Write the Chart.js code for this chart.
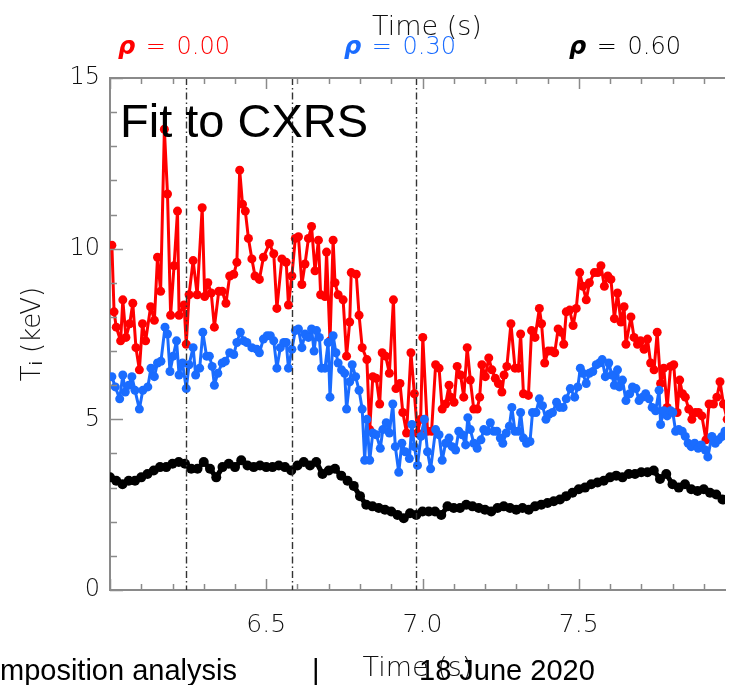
<!DOCTYPE html>
<html>
<head>
<meta charset="utf-8">
<script src="https://cdn.jsdelivr.net/npm/chart.js@4.4.0/dist/chart.umd.min.js"></script>
<style>
  body { margin: 0; background: #fff; }
  #wrap { position: relative; width: 730px; height: 685px; overflow: hidden; }
  #tiChart { position: absolute; left: 0; top: 0; }
  .lbl { position: absolute; white-space: nowrap; font-family: 'DejaVu Sans', sans-serif; font-weight: 200; line-height: 1; }
  .key { font-size: 24px; word-spacing: 3px; }
  .rho { font-weight: bold; font-style: italic; }
  .arial { font-family: 'Liberation Sans', Arial, sans-serif; font-weight: normal; }
</style>
</head>
<body>
<div id="wrap">
  <canvas id="tiChart" width="730" height="685"></canvas>
  <div class="lbl" style="left:372px; top:12px; font-size:27px; color:#111;">Time (s)</div>
  <div class="lbl key" style="left:118px; top:34px; color:#ff0000;"><span class="rho">ρ</span> = 0.00</div>
  <div class="lbl key" style="left:344px; top:34px; color:#1a6cff;"><span class="rho">ρ</span> = 0.30</div>
  <div class="lbl key" style="left:569px; top:34px; color:#000;"><span class="rho">ρ</span> = 0.60</div>
  <div class="lbl arial" style="left:120px; top:97px; font-size:47px; color:#000;">Fit to CXRS</div>
  <div class="lbl arial" style="left:0px; top:656px; font-size:29px; color:#000;">mposition analysis</div>
  <div class="lbl arial" style="left:312px; top:656px; font-size:29px; color:#000;">|</div>
  <div class="lbl arial" style="left:419px; top:656px; font-size:29px; color:#000;">18 June 2020</div>
</div>
<script>
// marker times (dash-dot lines)
const markTimes = [6.243, 6.582, 6.979];

// rho = 0.00
const redTime = [6.006, 6.013, 6.020, 6.034, 6.041, 6.051, 6.063, 6.073, 6.083, 6.094, 6.104, 6.114, 6.130, 6.142, 6.152, 6.162,
  6.174, 6.184, 6.194, 6.205, 6.216, 6.221, 6.237, 6.244, 6.253, 6.266, 6.279, 6.295, 6.303, 6.313, 6.324, 6.334,
  6.348, 6.359, 6.371, 6.383, 6.396, 6.406, 6.415, 6.424, 6.433, 6.443, 6.454, 6.464, 6.478, 6.491, 6.510, 6.524,
  6.534, 6.550, 6.564, 6.571, 6.582, 6.593, 6.603, 6.614, 6.624, 6.635, 6.645, 6.656, 6.667, 6.674, 6.688, 6.693,
  6.704, 6.714, 6.720, 6.730, 6.746, 6.757, 6.767, 6.772, 6.788, 6.797, 6.807, 6.822, 6.831, 6.841, 6.852, 6.863,
  6.871, 6.882, 6.894, 6.907, 6.915, 6.928, 6.937, 6.949, 6.963, 6.974, 6.984, 6.994, 7.001, 7.016, 7.029, 7.042,
  7.053, 7.063, 7.074, 7.085, 7.090, 7.101, 7.111, 7.122, 7.132, 7.143, 7.153, 7.164, 7.175, 7.183, 7.190, 7.201,
  7.212, 7.222, 7.233, 7.243, 7.254, 7.261, 7.270, 7.283, 7.296, 7.307, 7.314, 7.323, 7.339, 7.349, 7.360, 7.374,
  7.381, 7.391, 7.402, 7.413, 7.423, 7.434, 7.444, 7.452, 7.460, 7.471, 7.482, 7.492, 7.503, 7.513, 7.524, 7.534,
  7.550, 7.561, 7.571, 7.582, 7.593, 7.603, 7.614, 7.624, 7.635, 7.645, 7.651, 7.667, 7.677, 7.688, 7.698, 7.709,
  7.720, 7.730, 7.741, 7.751, 7.762, 7.772, 7.783, 7.794, 7.804, 7.815, 7.823, 7.832, 7.841, 7.852, 7.862, 7.873,
  7.883, 7.894, 7.907, 7.917, 7.931, 7.942, 7.952, 7.963, 7.975];
const redTi = [10.1, 8.15, 7.7, 7.3, 8.5, 7.4, 7.8, 8.4, 7.1, 6.45, 7.8, 7.3, 8.3, 7.9, 9.75, 8.75,
  13.5, 11.6, 8.05, 9.5, 11.1, 8.05, 8.35, 7.2, 8.65, 9.65, 8.65, 11.2, 8.6, 9.0, 8.7, 7.7,
  8.75, 8.75, 8.4, 9.2, 9.25, 9.6, 12.3, 11.3, 11.1, 10.3, 9.7, 9.2, 9.1, 9.75, 10.15, 9.85,
  8.25, 9.7, 9.6, 8.35, 9.2, 10.3, 10.35, 8.95, 9.55, 10.3, 10.65, 9.35, 10.25, 8.65, 8.6, 9.9,
  7.3, 10.25, 9.0, 8.65, 8.5, 6.85, 7.85, 9.3, 9.25, 8.05, 7.1, 6.75, 4.7, 6.25, 6.2, 5.45,
  6.95, 6.85, 6.35, 8.5, 5.9, 6.05, 5.2, 4.6, 6.95, 5.75, 4.6, 5.0, 7.4, 4.65, 4.65, 6.6,
  6.5, 5.3, 5.45, 6.0, 5.65, 5.5, 6.55, 6.3, 5.65, 7.1, 6.15, 5.3, 5.3, 5.65, 6.6, 6.25,
  6.8, 6.45, 6.2, 6.05, 5.8, 6.3, 6.55, 7.8, 6.5, 6.5, 7.5, 5.75, 5.7, 7.6, 7.4, 8.25,
  7.8, 6.65, 7.0, 7.0, 6.95, 7.65, 7.55, 7.2, 8.15, 8.2, 7.75, 8.25, 9.3, 8.9, 8.5, 9.0,
  9.3, 9.3, 9.5, 8.9, 9.2, 9.1, 7.95, 8.7, 7.85, 8.3, 7.2, 8.0, 7.4, 7.2, 7.3, 7.05,
  7.35, 6.65, 6.45, 7.55, 6.05, 6.5, 5.35, 6.55, 6.6, 5.2, 6.15, 5.75, 5.65, 5.3, 5.0, 5.2,
  5.2, 5.1, 4.4, 5.45, 5.45, 5.65, 6.1, 5.45, 5.0];

// rho = 0.30
const blueTime = [6.006, 6.017, 6.031, 6.041, 6.049, 6.060, 6.070, 6.080, 6.094, 6.105, 6.121, 6.131, 6.142, 6.152, 6.163, 6.176,
  6.184, 6.192, 6.202, 6.213, 6.221, 6.232, 6.244, 6.253, 6.266, 6.274, 6.287, 6.297, 6.309, 6.318, 6.327, 6.334,
  6.345, 6.359, 6.369, 6.383, 6.396, 6.406, 6.417, 6.428, 6.438, 6.454, 6.470, 6.478, 6.491, 6.503, 6.513, 6.524,
  6.534, 6.545, 6.556, 6.564, 6.571, 6.582, 6.593, 6.603, 6.614, 6.624, 6.635, 6.645, 6.653, 6.661, 6.670, 6.677,
  6.688, 6.698, 6.704, 6.714, 6.723, 6.730, 6.741, 6.751, 6.757, 6.767, 6.775, 6.786, 6.797, 6.807, 6.815, 6.822,
  6.831, 6.841, 6.852, 6.865, 6.873, 6.884, 6.894, 6.905, 6.913, 6.924, 6.934, 6.945, 6.958, 6.966, 6.974, 6.984,
  6.995, 7.006, 7.016, 7.026, 7.042, 7.053, 7.063, 7.074, 7.085, 7.095, 7.106, 7.116, 7.127, 7.138, 7.145, 7.153,
  7.164, 7.175, 7.187, 7.196, 7.206, 7.217, 7.228, 7.238, 7.249, 7.257, 7.268, 7.278, 7.286, 7.296, 7.307, 7.314,
  7.323, 7.333, 7.344, 7.352, 7.363, 7.374, 7.384, 7.395, 7.405, 7.416, 7.429, 7.439, 7.450, 7.460, 7.473, 7.487,
  7.497, 7.505, 7.513, 7.524, 7.534, 7.545, 7.556, 7.566, 7.575, 7.585, 7.596, 7.606, 7.614, 7.624, 7.630, 7.640,
  7.651, 7.663, 7.672, 7.683, 7.693, 7.704, 7.714, 7.725, 7.735, 7.746, 7.757, 7.762, 7.772, 7.783, 7.794, 7.801,
  7.810, 7.820, 7.831, 7.841, 7.850, 7.860, 7.871, 7.882, 7.892, 7.905, 7.913, 7.926, 7.937, 7.947, 7.958, 7.968];
const blueTi = [6.25, 5.95, 5.6, 6.3, 5.8, 6.0, 6.25, 5.85, 5.3, 5.85, 5.95, 6.5, 6.25, 6.65, 6.7, 7.7,
  7.5, 6.4, 6.85, 7.3, 6.3, 6.65, 5.9, 6.6, 7.1, 6.3, 6.5, 7.55, 6.85, 6.85, 6.55, 6.0,
  6.35, 6.65, 6.7, 6.95, 6.9, 7.25, 7.55, 7.3, 7.25, 7.1, 7.05, 6.95, 7.35, 7.45, 7.45, 7.3,
  6.5, 7.1, 7.25, 7.25, 6.5, 7.05, 7.6, 7.65, 7.1, 7.5, 7.4, 7.65, 7.0, 7.6, 7.4, 6.5,
  6.5, 7.25, 5.65, 7.45, 6.95, 6.65, 6.45, 6.35, 5.3, 6.1, 6.6, 6.25, 5.85, 5.3, 3.8, 5.0,
  3.8, 4.6, 4.55, 4.15, 4.7, 4.9, 4.6, 5.45, 4.2, 3.45, 4.3, 4.05, 3.85, 4.85, 4.2, 3.65,
  4.5, 5.0, 4.05, 3.55, 4.7, 4.55, 3.8, 4.3, 4.45, 4.2, 4.1, 4.65, 4.55, 4.25, 5.05, 4.7,
  4.3, 4.15, 4.4, 4.7, 4.65, 4.9, 4.65, 4.65, 4.45, 4.3, 4.6, 4.8, 5.35, 4.65, 4.65, 5.2,
  4.45, 4.3, 4.35, 5.2, 5.2, 5.6, 5.4, 5.0, 5.15, 5.2, 5.5, 5.35, 5.35, 5.6, 5.9, 5.65,
  5.95, 6.5, 6.35, 6.05, 6.35, 6.4, 6.6, 6.65, 6.75, 6.25, 6.65, 6.3, 6.0, 6.45, 5.95, 6.15,
  5.55, 5.75, 5.95, 5.9, 5.55, 5.65, 5.75, 5.6, 5.35, 5.25, 5.85, 4.85, 5.25, 5.1, 5.25, 5.2,
  4.65, 4.7, 4.65, 4.5, 4.3, 4.2, 4.3, 4.15, 4.25, 4.1, 3.9, 4.5, 4.3, 4.4, 4.5, 4.65];

// rho = 0.60
const blackTime = [6.00, 6.02, 6.04, 6.06, 6.08, 6.10, 6.12, 6.14, 6.16, 6.18, 6.20, 6.22, 6.24, 6.26, 6.28, 6.30,
  6.32, 6.34, 6.36, 6.38, 6.40, 6.42, 6.44, 6.46, 6.48, 6.50, 6.52, 6.54, 6.56, 6.58, 6.60, 6.62,
  6.64, 6.66, 6.68, 6.70, 6.72, 6.74, 6.76, 6.78, 6.80, 6.82, 6.84, 6.86, 6.88, 6.90, 6.92, 6.94,
  6.96, 6.98, 7.00, 7.02, 7.04, 7.06, 7.08, 7.10, 7.12, 7.14, 7.16, 7.18, 7.20, 7.22, 7.24, 7.26,
  7.28, 7.30, 7.32, 7.34, 7.36, 7.38, 7.40, 7.42, 7.44, 7.46, 7.48, 7.50, 7.52, 7.54, 7.56, 7.58,
  7.60, 7.62, 7.64, 7.66, 7.68, 7.70, 7.72, 7.74, 7.76, 7.78, 7.80, 7.82, 7.84, 7.86, 7.88, 7.90,
  7.92, 7.94, 7.96, 7.98];
const blackTi = [3.3, 3.2, 3.1, 3.2, 3.2, 3.3, 3.4, 3.5, 3.6, 3.6, 3.7, 3.75, 3.7, 3.55, 3.55, 3.75,
  3.55, 3.3, 3.6, 3.7, 3.6, 3.8, 3.65, 3.6, 3.65, 3.6, 3.6, 3.65, 3.6, 3.5, 3.65, 3.75,
  3.65, 3.75, 3.4, 3.5, 3.55, 3.35, 3.2, 3.05, 2.75, 2.5, 2.45, 2.4, 2.35, 2.3, 2.2, 2.1,
  2.25, 2.2, 2.3, 2.3, 2.3, 2.2, 2.45, 2.4, 2.4, 2.5, 2.45, 2.4, 2.35, 2.3, 2.4, 2.45,
  2.4, 2.35, 2.4, 2.35, 2.45, 2.5, 2.55, 2.6, 2.65, 2.75, 2.85, 2.95, 3.0, 3.1, 3.15, 3.2,
  3.3, 3.35, 3.3, 3.4, 3.4, 3.45, 3.45, 3.5, 3.25, 3.4, 3.1, 3.0, 3.1, 2.95, 2.9, 2.95,
  2.85, 2.8, 2.65, 2.7];

const yTicks = [0, 5, 10, 15];

const pairs = (t, v) => t.map((tt, i) => ({ x: tt, y: v[i] }));

function series(label, t, v, color, radius, width, order) {
  return {
    label, data: pairs(t, v), order,
    borderColor: color, backgroundColor: color,
    borderWidth: width, borderJoinStyle: 'round', borderCapStyle: 'round',
    pointRadius: radius, pointBorderWidth: 0, pointHoverRadius: radius, tension: 0
  };
}

// axes frame: top line, inward ticks, dash-dot markers
const frame = {
  id: 'frame',
  afterDatasetsDraw(chart) {
    const { ctx, chartArea: a, scales: { x, y } } = chart;
    const seg = (x1, y1, x2, y2) => { ctx.beginPath(); ctx.moveTo(x1, y1); ctx.lineTo(x2, y2); ctx.stroke(); };
    ctx.save();
    ctx.strokeStyle = '#333';
    ctx.lineWidth = 1.4;
    ctx.setLineDash([7, 3, 1.5, 3]);
    markTimes.forEach(t => {
      const px = Math.round(x.getPixelForValue(t)) + 0.5;
      seg(px, a.top, px, a.bottom);
    });
    ctx.setLineDash([]);
    ctx.strokeStyle = '#8a8a8a';
    ctx.lineWidth = 2;
    seg(a.left, a.top, a.right, a.top);
    ctx.lineWidth = 1.5;
    x.ticks.forEach(tk => {
      const px = Math.round(x.getPixelForValue(tk.value)) + 0.5;
      const len = Math.round(tk.value * 10) % 5 === 0 ? 11 : 6;
      seg(px, a.bottom, px, a.bottom - len);
      seg(px, a.top, px, a.top + len);
    });
    y.ticks.forEach(tk => {
      const py = Math.round(y.getPixelForValue(tk.value)) + 0.5;
      const len = yTicks.includes(tk.value) ? 13 : 7;
      seg(a.left, py, a.left + len, py);
    });
    ctx.restore();
  }
};

Chart.defaults.font.family = "'DejaVu Sans', sans-serif";
Chart.defaults.font.weight = '200';
Chart.defaults.color = '#111';

new Chart(document.getElementById('tiChart'), {
  type: 'line',
  data: {
    datasets: [
      series('ρ = 0.30', blueTime, blueTi, '#1a6cff', 4.5, 3, 1),
      series('ρ = 0.00', redTime, redTi, '#ff0000', 4.5, 3, 2),
      series('ρ = 0.60', blackTime, blackTi, '#000000', 5, 5, 3)
    ]
  },
  options: {
    responsive: false,
    animation: false,
    layout: { padding: { top: 78, left: 0, right: 0, bottom: 0 } },
    plugins: { legend: { display: false }, tooltip: { enabled: false } },
    scales: {
      x: {
        type: 'linear',
        min: 6.0, max: 7.968,
        grid: { display: false, drawTicks: false },
        border: { display: true, color: '#8a8a8a', width: 2 },
        ticks: {
          stepSize: 0.1, includeBounds: false, autoSkip: false, maxRotation: 0,
          padding: 20, font: { size: 25, weight: '200' },
          callback: v => {
            const k = Math.round(v * 10);
            return (k % 5 === 0 && k > 60 && k < 80) ? (k / 10).toFixed(1) : '';
          }
        },
        title: { display: true, text: 'Time (s)', font: { size: 27, weight: '200' }, padding: { top: 13, bottom: 0 } },
        afterFit: s => { s.height = 95; }
      },
      y: {
        min: 0, max: 15,
        grid: { display: false, drawTicks: false },
        border: { display: true, color: '#8a8a8a', width: 2 },
        ticks: {
          stepSize: 1, autoSkip: false, padding: 10, font: { size: 24, weight: '200' },
          callback: v => yTicks.includes(v) ? String(v) : ''
        },
        title: { display: true, text: 'Tᵢ (keV)', font: { size: 26, weight: '200' }, padding: { top: 18, bottom: 0 } },
        afterFit: s => { s.width = 110; }
      }
    }
  },
  plugins: [frame]
});
</script>
</body>
</html>
